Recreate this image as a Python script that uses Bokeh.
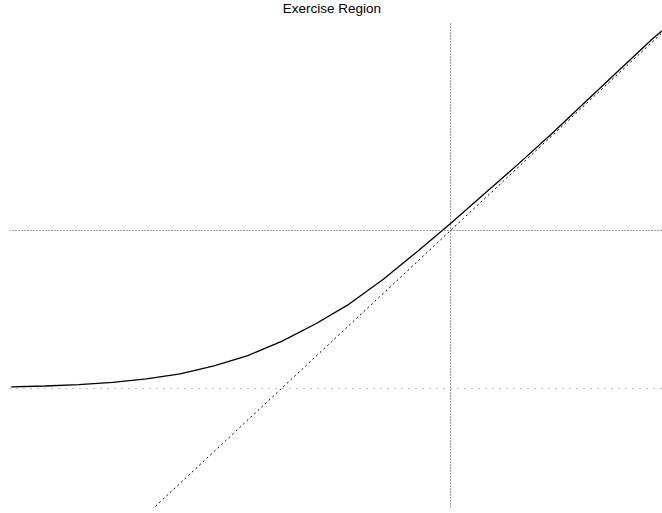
from bokeh.plotting import figure
from bokeh.models import Range1d, Span
from bokeh.core.properties import value
from bokeh.embed import file_html
from bokeh.resources import INLINE

# underlying price and option value
S = [20, 30, 40, 50, 60, 70, 80, 90, 100, 110, 120, 130, 140, 150, 160, 170, 180, 190, 200, 210, 212.7]
V = [0.47, 0.76, 1.2, 1.9, 3.0, 4.6, 7.1, 10.4, 14.9, 20.4, 26.7, 34.5, 43.2, 52.2, 61.6, 71.0, 80.7, 90.8, 100.9, 110.9, 113.3]
K = 100
payoff_S = [40, 220]
payoff_V = [s - K for s in payoff_S]
vline_x = 150
vline_y = [-37.7, 115.5]
hline_y = 50
zero_y = 0
title_text = "Exercise Region"
title_pos = (114.9, 120.4)

p = figure(width=662, height=513, output_backend="svg", toolbar_location=None,
           x_range=Range1d(19.5, 212.7), y_range=Range1d(-37.7, 122.8),
           x_axis_location=None, y_axis_location=None,
           min_border_left=9, min_border_right=0, min_border_top=0, min_border_bottom=6)
p.outline_line_color = None
p.xgrid.visible = False
p.ygrid.visible = False
p.background_fill_color = "white"
p.border_fill_color = "white"

p.line([vline_x, vline_x], vline_y, line_color="#333333", line_width=1, line_dash="1 2")
p.add_layout(Span(location=hline_y, dimension="width", line_color="#333333", line_width=1, line_dash="1 2"))
p.add_layout(Span(location=zero_y, dimension="width", line_color="#777777", line_width=1, line_dash="1 6"))

p.line(payoff_S, payoff_V, line_color="black", line_width=1, line_dash="2 3")
p.line(S, V, line_color="black", line_width=1.3)

p.text(x=[title_pos[0]], y=[title_pos[1]], text=[title_text], text_align="center",
       text_baseline="alphabetic", text_font=value("Liberation Sans"),
       text_font_size="13.5px", text_color="black")

open("out.html", "w").write(file_html(p, INLINE))
